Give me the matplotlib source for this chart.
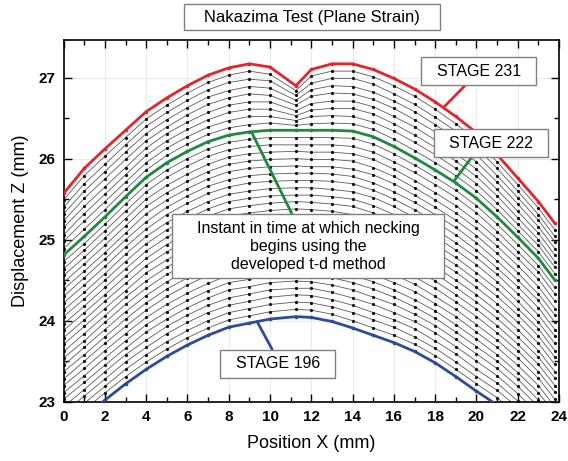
import numpy as np
import matplotlib
matplotlib.use("Agg")
import matplotlib.pyplot as plt
from matplotlib.ticker import MultipleLocator

plt.rcParams['font.family'] = ['Liberation Sans', 'DejaVu Sans']

# positions along the specimen (mm)
x_pos = [0, 1, 2, 3, 4, 5, 6, 7, 8, 9, 10, 11.25, 12,
         13, 14, 15, 16, 17, 18, 19, 20, 21, 22, 23, 23.8]
stages = list(range(196, 232))

# displacement Z (mm), one row per x position, columns = stages 196..231
z_by_x = [
    [22.60, 22.69, 22.77, 22.86, 22.94, 23.03, 23.11, 23.20, 23.28, 23.37, 23.45, 23.54, 23.62, 23.71, 23.79, 23.88, 23.96, 24.05, 24.13, 24.22, 24.30, 24.39, 24.47, 24.56, 24.64, 24.73, 24.81, 24.89, 24.98, 25.06, 25.15, 25.23, 25.32, 25.40, 25.49, 25.57],
    [22.81, 22.90, 22.98, 23.07, 23.15, 23.24, 23.32, 23.41, 23.50, 23.58, 23.67, 23.75, 23.84, 23.93, 24.01, 24.10, 24.18, 24.27, 24.35, 24.44, 24.53, 24.61, 24.70, 24.78, 24.87, 24.95, 25.04, 25.13, 25.23, 25.32, 25.41, 25.51, 25.60, 25.69, 25.79, 25.88],
    [23.02, 23.11, 23.19, 23.28, 23.37, 23.45, 23.54, 23.63, 23.72, 23.80, 23.89, 23.98, 24.06, 24.15, 24.24, 24.32, 24.41, 24.50, 24.58, 24.67, 24.76, 24.84, 24.93, 25.02, 25.11, 25.19, 25.28, 25.37, 25.47, 25.56, 25.65, 25.75, 25.84, 25.93, 26.03, 26.12],
    [23.22, 23.31, 23.40, 23.49, 23.58, 23.66, 23.75, 23.84, 23.93, 24.02, 24.11, 24.20, 24.29, 24.37, 24.46, 24.55, 24.64, 24.73, 24.82, 24.91, 25.00, 25.08, 25.17, 25.26, 25.35, 25.44, 25.53, 25.62, 25.71, 25.80, 25.89, 25.99, 26.08, 26.17, 26.26, 26.35],
    [23.40, 23.49, 23.58, 23.67, 23.76, 23.86, 23.95, 24.04, 24.13, 24.22, 24.31, 24.40, 24.49, 24.59, 24.68, 24.77, 24.86, 24.95, 25.04, 25.13, 25.22, 25.32, 25.41, 25.50, 25.59, 25.68, 25.77, 25.86, 25.95, 26.04, 26.13, 26.22, 26.31, 26.40, 26.49, 26.58],
    [23.56, 23.65, 23.74, 23.84, 23.93, 24.02, 24.11, 24.20, 24.30, 24.39, 24.48, 24.57, 24.66, 24.75, 24.85, 24.94, 25.03, 25.12, 25.21, 25.31, 25.40, 25.49, 25.58, 25.67, 25.77, 25.86, 25.95, 26.04, 26.13, 26.22, 26.31, 26.39, 26.48, 26.57, 26.66, 26.75],
    [23.70, 23.79, 23.88, 23.98, 24.07, 24.16, 24.25, 24.34, 24.44, 24.53, 24.62, 24.71, 24.80, 24.89, 24.99, 25.08, 25.17, 25.26, 25.35, 25.45, 25.54, 25.63, 25.72, 25.81, 25.91, 26.00, 26.09, 26.18, 26.27, 26.36, 26.45, 26.54, 26.63, 26.72, 26.81, 26.90],
    [23.82, 23.91, 24.00, 24.10, 24.19, 24.28, 24.37, 24.46, 24.56, 24.65, 24.74, 24.83, 24.92, 25.01, 25.11, 25.20, 25.29, 25.38, 25.47, 25.57, 25.66, 25.75, 25.84, 25.93, 26.03, 26.12, 26.21, 26.30, 26.39, 26.48, 26.57, 26.67, 26.76, 26.85, 26.94, 27.03],
    [23.92, 24.01, 24.10, 24.19, 24.28, 24.38, 24.47, 24.56, 24.65, 24.74, 24.83, 24.92, 25.01, 25.11, 25.20, 25.29, 25.38, 25.47, 25.56, 25.65, 25.74, 25.84, 25.93, 26.02, 26.11, 26.20, 26.29, 26.38, 26.47, 26.57, 26.66, 26.75, 26.84, 26.94, 27.03, 27.12],
    [23.97, 24.06, 24.15, 24.24, 24.33, 24.42, 24.51, 24.61, 24.70, 24.79, 24.88, 24.97, 25.06, 25.15, 25.24, 25.33, 25.42, 25.51, 25.60, 25.70, 25.79, 25.88, 25.97, 26.06, 26.15, 26.24, 26.33, 26.42, 26.52, 26.61, 26.70, 26.80, 26.89, 26.98, 27.08, 27.17],
    [24.02, 24.11, 24.20, 24.29, 24.38, 24.47, 24.56, 24.65, 24.74, 24.83, 24.92, 25.01, 25.10, 25.18, 25.27, 25.36, 25.45, 25.54, 25.63, 25.72, 25.81, 25.90, 25.99, 26.08, 26.17, 26.26, 26.35, 26.44, 26.52, 26.61, 26.70, 26.78, 26.87, 26.96, 27.04, 27.13],
    [24.05, 24.14, 24.23, 24.32, 24.40, 24.49, 24.58, 24.67, 24.76, 24.85, 24.94, 25.02, 25.11, 25.20, 25.29, 25.38, 25.47, 25.55, 25.64, 25.73, 25.82, 25.91, 26.00, 26.09, 26.17, 26.26, 26.35, 26.41, 26.47, 26.53, 26.59, 26.66, 26.72, 26.78, 26.84, 26.90],
    [24.04, 24.13, 24.22, 24.31, 24.40, 24.48, 24.57, 24.66, 24.75, 24.84, 24.93, 25.02, 25.11, 25.19, 25.28, 25.37, 25.46, 25.55, 25.64, 25.73, 25.82, 25.90, 25.99, 26.08, 26.17, 26.26, 26.35, 26.43, 26.52, 26.60, 26.68, 26.77, 26.85, 26.93, 27.02, 27.10],
    [23.99, 24.08, 24.17, 24.26, 24.35, 24.44, 24.53, 24.63, 24.72, 24.81, 24.90, 24.99, 25.08, 25.17, 25.26, 25.35, 25.44, 25.53, 25.62, 25.72, 25.81, 25.90, 25.99, 26.08, 26.17, 26.26, 26.35, 26.44, 26.53, 26.62, 26.71, 26.81, 26.90, 26.99, 27.08, 27.17],
    [23.91, 24.00, 24.10, 24.19, 24.28, 24.38, 24.47, 24.56, 24.66, 24.75, 24.85, 24.94, 25.03, 25.13, 25.22, 25.31, 25.41, 25.50, 25.59, 25.69, 25.78, 25.87, 25.97, 26.06, 26.15, 26.25, 26.34, 26.43, 26.52, 26.62, 26.71, 26.80, 26.89, 26.99, 27.08, 27.17],
    [23.82, 23.91, 24.01, 24.10, 24.20, 24.29, 24.39, 24.48, 24.57, 24.67, 24.76, 24.86, 24.95, 25.04, 25.14, 25.23, 25.33, 25.42, 25.52, 25.61, 25.70, 25.80, 25.89, 25.99, 26.08, 26.18, 26.27, 26.36, 26.45, 26.55, 26.64, 26.73, 26.82, 26.92, 27.01, 27.10],
    [23.73, 23.82, 23.92, 24.01, 24.10, 24.20, 24.29, 24.38, 24.47, 24.57, 24.66, 24.75, 24.85, 24.94, 25.03, 25.13, 25.22, 25.31, 25.41, 25.50, 25.59, 25.69, 25.78, 25.87, 25.96, 26.06, 26.15, 26.24, 26.34, 26.43, 26.52, 26.62, 26.71, 26.80, 26.90, 26.99],
    [23.62, 23.71, 23.80, 23.90, 23.99, 24.08, 24.17, 24.26, 24.36, 24.45, 24.54, 24.63, 24.72, 24.81, 24.91, 25.00, 25.09, 25.18, 25.27, 25.37, 25.46, 25.55, 25.64, 25.73, 25.83, 25.92, 26.01, 26.10, 26.20, 26.29, 26.39, 26.48, 26.58, 26.67, 26.77, 26.86],
    [23.48, 23.57, 23.66, 23.75, 23.85, 23.94, 24.03, 24.12, 24.21, 24.30, 24.40, 24.49, 24.58, 24.67, 24.76, 24.85, 24.94, 25.04, 25.13, 25.22, 25.31, 25.40, 25.49, 25.58, 25.68, 25.77, 25.86, 25.95, 26.05, 26.14, 26.23, 26.33, 26.42, 26.51, 26.61, 26.70],
    [23.31, 23.40, 23.49, 23.59, 23.68, 23.77, 23.86, 23.95, 24.05, 24.14, 24.23, 24.32, 24.41, 24.50, 24.60, 24.69, 24.78, 24.87, 24.96, 25.06, 25.15, 25.24, 25.33, 25.42, 25.52, 25.61, 25.70, 25.79, 25.88, 25.97, 26.06, 26.16, 26.25, 26.34, 26.43, 26.52],
    [23.13, 23.22, 23.31, 23.40, 23.50, 23.59, 23.68, 23.77, 23.86, 23.95, 24.05, 24.14, 24.23, 24.32, 24.41, 24.50, 24.59, 24.69, 24.78, 24.87, 24.96, 25.05, 25.14, 25.23, 25.33, 25.42, 25.51, 25.60, 25.69, 25.78, 25.87, 25.96, 26.05, 26.14, 26.23, 26.32],
    [22.96, 23.05, 23.14, 23.23, 23.32, 23.41, 23.50, 23.58, 23.67, 23.76, 23.85, 23.94, 24.03, 24.12, 24.21, 24.30, 24.39, 24.48, 24.57, 24.65, 24.74, 24.83, 24.92, 25.01, 25.10, 25.19, 25.28, 25.37, 25.45, 25.54, 25.62, 25.71, 25.79, 25.88, 25.96, 26.05],
    [22.75, 22.84, 22.93, 23.01, 23.10, 23.19, 23.28, 23.36, 23.45, 23.54, 23.63, 23.71, 23.80, 23.89, 23.98, 24.07, 24.15, 24.24, 24.33, 24.42, 24.50, 24.59, 24.68, 24.77, 24.85, 24.94, 25.03, 25.11, 25.19, 25.27, 25.35, 25.44, 25.52, 25.60, 25.68, 25.76],
    [22.50, 22.59, 22.67, 22.76, 22.85, 22.94, 23.02, 23.11, 23.20, 23.29, 23.37, 23.46, 23.55, 23.63, 23.72, 23.81, 23.90, 23.98, 24.07, 24.16, 24.25, 24.33, 24.42, 24.51, 24.60, 24.68, 24.77, 24.85, 24.93, 25.00, 25.08, 25.16, 25.24, 25.31, 25.39, 25.47],
    [22.25, 22.34, 22.42, 22.51, 22.60, 22.68, 22.77, 22.86, 22.94, 23.03, 23.12, 23.20, 23.29, 23.37, 23.46, 23.55, 23.63, 23.72, 23.81, 23.89, 23.98, 24.07, 24.15, 24.24, 24.33, 24.41, 24.50, 24.58, 24.66, 24.73, 24.81, 24.89, 24.97, 25.04, 25.12, 25.20],
]

highlight = {231: '#e3262b', 222: '#1e8a3c', 196: '#2d4b9b'}

# call-outs: text, point on the curve, box centre, where the leader leaves the box
callout_text = ["  STAGE 231  ", "  STAGE 222  ",
                "    Instant in time at which necking    \nbegins using the\ndeveloped t-d method",
                "  STAGE 196  "]
callout_point = [(18.4, 26.63), (18.9, 25.72), (9.1, 26.33), (9.37, 23.99)]
callout_box = [(20.12, 27.08), (20.70, 26.19), (11.85, 24.92), (10.38, 23.47)]
callout_rel = [(0.43, 0.0), (0.36, 0.0), (0.45, 1.0), (0.48, 1.0)]
callout_color = ['#e3262b', '#1e8a3c', '#1e8a3c', '#2d4b9b']

z = np.array(z_by_x).T

fig = plt.figure(figsize=(5.68, 4.61), dpi=100)
ax = fig.add_axes([0.112, 0.1286, 0.8722, 0.7857])

for s, row in zip(stages, z):
    if s in highlight:
        continue
    ax.plot(x_pos, row, color='#5a5a5a', lw=0.6, marker='o', ms=1.3,
            mfc='#111111', mec='#111111', zorder=2)
for s, c in highlight.items():
    ax.plot(x_pos, z[stages.index(s)], color=c, lw=2, marker='o', ms=1.6,
            mfc=c, mec=c, zorder=3)

for txt, pt, box, rel, c in zip(callout_text, callout_point, callout_box,
                                callout_rel, callout_color):
    ax.annotate(txt, xy=pt, xytext=box, ha='center', va='center',
                multialignment='center', fontsize=11.5, zorder=5, linespacing=1.25,
                bbox=dict(boxstyle='square,pad=0.4', fc='white', ec='#808080', lw=1),
                arrowprops=dict(arrowstyle='-', color=c, lw=2, relpos=rel,
                                shrinkA=0, shrinkB=0))

ax.set_xlim(0, 24)
ax.set_ylim(23, 27.47)
ax.xaxis.set_major_locator(MultipleLocator(2))
ax.xaxis.set_minor_locator(MultipleLocator(1))
ax.yaxis.set_major_locator(MultipleLocator(1))
ax.yaxis.set_minor_locator(MultipleLocator(0.5))
ax.tick_params(which='both', direction='in', top=True, right=True, width=1)
ax.tick_params(which='major', length=6, labelsize=11, pad=6)
ax.tick_params(which='minor', length=3.5)
for lbl in ax.get_xticklabels() + ax.get_yticklabels():
    lbl.set_fontweight('bold')
for sp in ax.spines.values():
    sp.set_linewidth(1.2)
ax.grid(True, which='major', color='#e6e6e6', lw=0.6)
ax.set_axisbelow(True)

ax.set_xlabel('Position X (mm)', fontsize=13, labelpad=8)
ax.set_ylabel('Displacement Z (mm)', fontsize=13, labelpad=7)

fig.text(0.549, 0.963, '   Nakazima Test (Plane Strain)   ', ha='center', va='center',
         fontsize=12, bbox=dict(boxstyle='square,pad=0.35', fc='white', ec='#808080', lw=1))

fig.savefig('out.png', dpi=100)
